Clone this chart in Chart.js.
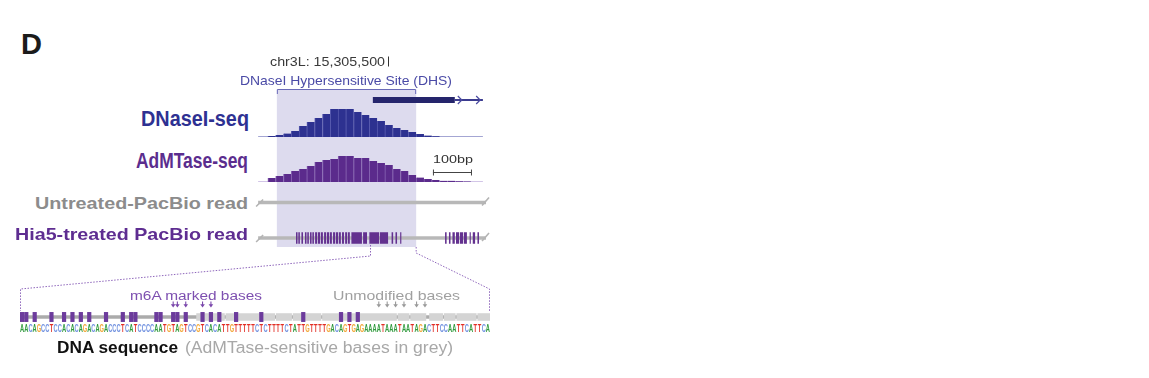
<!DOCTYPE html>
<html>
<head>
<meta charset="utf-8">
<title>DHS / PacBio read schematic</title>
<script src="https://cdn.jsdelivr.net/npm/chart.js@4.4.1/dist/chart.umd.min.js"></script>
<style>
  html, body { margin: 0; padding: 0; background: #fff; }
  #fig { position: relative; width: 1149px; height: 378px; overflow: hidden;
         font-family: "Liberation Sans", Arial, Helvetica, sans-serif; }
  #fig canvas { position: absolute; }
  .lbl { position: absolute; white-space: nowrap; line-height: 1; transform-origin: 0 0; }
</style>
</head>
<body>
<div id="fig">
  <canvas id="geneTrack"  width="240" height="58"  style="left:255px; top:50px"></canvas>
  <canvas id="dnaseTrack" width="240" height="30"  style="left:255px; top:108px"></canvas>
  <canvas id="admTrack"   width="240" height="46"  style="left:255px; top:138px"></canvas>
  <canvas id="untrTrack"  width="240" height="40"  style="left:255px; top:184px"></canvas>
  <canvas id="hia5Track"  width="240" height="23"  style="left:255px; top:224px"></canvas>
  <canvas id="seqTrack"   width="500" height="120" style="left:0; top:240px"></canvas>
</div>
<script>
// ---- upper tracks: x in bp from the window start (chr3L:15,305,160) ----
const winLen = 615;
const dhs = [56, 413];
const chrTick = 340;              // chr3L:15,305,500
const gene = [302, 512, 584];     // thick start, thick end, end of thin part
const geneArrows = [530, 577];
const covSpan = [8, 584];
const binStart = 33, binSize = 20;
const dnaseCov = [1, 2, 3.5, 6, 11, 15, 19, 23, 28, 28, 28, 25, 22, 19, 16, 12, 9, 7, 5, 3, 1.5, 0.8];
const admCov = [4, 6, 8, 11, 13, 16, 20, 22, 23, 26, 26, 24, 24, 21, 19, 17, 13, 11, 7, 4.5, 3, 2, 1.2, 1.2, 0.8, 0.6];
const scaleBar = [456, 556];      // 100 bp
const readSpan = [8, 592];
const hia5Calls = [
  [105, 109], [111, 115], [119, 123], [128, 132], [134, 138], [141, 145], [147, 151],
  [154, 159], [161, 167], [169, 174], [177, 182], [184, 190], [192, 197], [200, 205],
  [207, 213], [215, 220], [223, 228], [231, 236], [238, 243], [247, 274], [277, 287],
  [293, 318], [320, 341], [350, 354], [360, 364], [372, 375],
  [487, 491], [497, 501], [506, 512], [515, 523], [525, 533], [535, 543], [550, 553],
  [558, 564], [570, 574]
];
const zoomWindow = [296, 413];

// ---- zoomed-in sequence (base index) ----
const sequence = 'AACAGCCTCC' + 'ACACAGACAG' + 'ACCCTCATCC' + 'CCAATGTAGT' + 'CCGTCACATT' +
                 'GTTTTTCTCT' + 'TTTCTATTGT' + 'TTTGACAGTG' + 'AGAAAATAAA' + 'TAATAGACTT' +
                 'CCAATTCATT' + 'CA';
const m6A = [0, 1, 3, 7, 10, 12, 14, 16, 20, 24, 26, 27, 32, 33, 36, 37, 39, 43, 45, 47, 51, 57, 67, 76, 78, 80];
const m6AArrows = [36, 37, 39, 43, 45];
const unmodArrows = [85, 87, 89, 91, 94, 96];
const sensitive = [[42, 48.8], [49, 60.8], [61, 64.8], [65, 71.8], [72, 89.8], [90, 92.8],
                   [93, 96.8], [97.5, 100.8], [101, 103.8], [104, 108.8], [109, 112]];
const baseColors = { A: '#2f9a3c', C: '#7393e0', G: '#f2a93b', T: '#e22f25' };

// ---- labels: text, left, cap top, width, size, weight, colour ----
const labels = [
  ['D', 21, 34, 21, 29, 700, '#1b1b1b'],
  ['chr3L: 15,305,500', 270, 56.5, 115, 13.5, 400, '#3a3a3a'],
  ['DNaseI Hypersensitive Site (DHS)', 240, 76, 212, 13.5, 400, '#4a4aa6'],
  ['DNaseI-seq', 141, 111, 108, 22, 700, '#2e3192'],
  ['AdMTase-seq', 136, 153, 112, 22, 700, '#5b2d8e'],
  ['Untreated-PacBio read', 35, 196.7, 213, 16.5, 700, '#8c8c8c'],
  ['Hia5-treated PacBio read', 15, 228.5, 233, 16.5, 700, '#5e2d91'],
  ['100bp', 433, 155, 40, 11, 400, '#333'],
  ['m6A marked bases', 130, 291.7, 132, 12.5, 400, '#7d4fb0'],
  ['Unmodified bases', 333, 290.7, 127, 13.5, 400, '#a0a0a0'],
  ['DNA sequence', 57, 341.7, 121, 16, 700, '#111'],
  ['(AdMTase-sensitive bases in grey)', 185, 341.7, 268, 16, 400, '#a8a8a8']
];

const fig = document.getElementById('fig');
labels.forEach(([text, left, capTop, width, size, weight, color]) => {
  const el = document.createElement('div');
  el.className = 'lbl';
  el.textContent = text;
  el.style.fontSize = size + 'px';
  el.style.fontWeight = weight;
  el.style.color = color;
  el.style.left = left + 'px';
  el.style.top = (capTop - 0.1305 * size) + 'px';
  fig.appendChild(el);
  const w = el.getBoundingClientRect().width;
  el.style.transform = 'scaleX(' + (width / w) + ')';
});

Chart.defaults.animation = false;
Chart.defaults.responsive = false;
Chart.defaults.devicePixelRatio = 1;
Chart.defaults.plugins.legend.display = false;
Chart.defaults.plugins.tooltip.enabled = false;

const bpAxis = () => ({ type: 'linear', min: 0, max: winLen, offset: false, display: false });
const rowAxis = { type: 'category', display: false };

// lavender DHS band behind the upper tracks
const shade = {
  id: 'dhsShade',
  beforeDatasetsDraw(chart, args, opts) {
    const x = chart.scales.x, ctx = chart.ctx;
    const x0 = x.getPixelForValue(dhs[0]), x1 = x.getPixelForValue(dhs[1]);
    const top = opts.top || 0;
    ctx.save();
    ctx.fillStyle = '#dddbee';
    ctx.fillRect(x0, top, x1 - x0, chart.height - top);
    ctx.restore();
  }
};

const geneDeco = {
  id: 'geneDeco',
  beforeDatasetsDraw(chart) {
    const x = chart.scales.x, ctx = chart.ctx;
    const x0 = x.getPixelForValue(dhs[0]) + 0.5, x1 = x.getPixelForValue(dhs[1]) - 0.5;
    ctx.save();
    ctx.strokeStyle = '#6a6ab8';
    ctx.lineWidth = 1;
    ctx.beginPath();
    ctx.moveTo(x0, 44); ctx.lineTo(x0, 39.5); ctx.lineTo(x1, 39.5); ctx.lineTo(x1, 44);
    ctx.stroke();
    const xt = Math.round(x.getPixelForValue(chrTick)) + 0.5;
    ctx.strokeStyle = '#333';
    ctx.beginPath(); ctx.moveTo(xt, 6.5); ctx.lineTo(xt, 16.5); ctx.stroke();
    ctx.restore();
  },
  afterDatasetsDraw(chart) {
    const x = chart.scales.x, ctx = chart.ctx;
    const yc = chart.scales.y.getPixelForValue(0);
    ctx.save();
    ctx.strokeStyle = '#4a4aa0';
    ctx.lineWidth = 1.2;
    geneArrows.forEach(p => {
      const px = x.getPixelForValue(p);
      ctx.beginPath();
      ctx.moveTo(px - 4, yc - 4); ctx.lineTo(px, yc); ctx.lineTo(px - 4, yc + 4);
      ctx.stroke();
    });
    ctx.restore();
  }
};

const scaleBarDeco = {
  id: 'scaleBarDeco',
  afterDatasetsDraw(chart) {
    const x = chart.scales.x, ctx = chart.ctx;
    const x0 = x.getPixelForValue(scaleBar[0]), x1 = x.getPixelForValue(scaleBar[1]);
    const y = 34.5;
    ctx.save();
    ctx.strokeStyle = '#444';
    ctx.lineWidth = 1;
    ctx.beginPath();
    ctx.moveTo(x0, y); ctx.lineTo(x1, y);
    ctx.moveTo(x0 + 0.5, y - 3); ctx.lineTo(x0 + 0.5, y + 3);
    ctx.moveTo(x1 - 0.5, y - 3); ctx.lineTo(x1 - 0.5, y + 3);
    ctx.stroke();
    ctx.restore();
  }
};

// slanted cut marks at both ends of a read
const readEnds = {
  id: 'readEnds',
  afterDatasetsDraw(chart) {
    const x = chart.scales.x, ctx = chart.ctx;
    const yc = chart.scales.y.getPixelForValue(0);
    const xs = x.getPixelForValue(readSpan[0]), xe = x.getPixelForValue(readSpan[1]);
    ctx.save();
    ctx.strokeStyle = '#b4b4b4';
    ctx.lineWidth = 1.6;
    ctx.beginPath();
    ctx.moveTo(xs - 2, yc + 4); ctx.lineTo(xs + 5, yc - 3);
    ctx.moveTo(xe - 4, yc + 3); ctx.lineTo(xe + 3, yc - 5);
    ctx.stroke();
    ctx.restore();
  }
};

new Chart(document.getElementById('geneTrack'), {
  type: 'bar',
  data: {
    labels: ['gene'],
    datasets: [
      { data: [{ x: [gene[0], gene[1]], y: 'gene' }], backgroundColor: '#25256c',
        barPercentage: 0.75, categoryPercentage: 1, grouped: false },
      { data: [{ x: [gene[1], gene[2]], y: 'gene' }], backgroundColor: '#3b3b8f',
        barPercentage: 0.25, categoryPercentage: 1, grouped: false }
    ]
  },
  options: {
    indexAxis: 'y',
    layout: { padding: { top: 46, bottom: 4 } },
    scales: { x: bpAxis(), y: rowAxis },
    plugins: { dhsShade: { top: 40 } }
  },
  plugins: [shade, geneDeco]
});

function coverageChart(id, values, color, edge, baseColor, ymax, padBottom, extra) {
  return new Chart(document.getElementById(id), {
    type: 'bar',
    data: {
      datasets: [
        { type: 'bar', data: values.map((v, i) => ({ x: binStart + binSize * (i + 0.5), y: v })),
          backgroundColor: color, borderColor: edge, borderWidth: { left: 1 },
          barPercentage: 1, categoryPercentage: 1 },
        { type: 'line', data: [{ x: covSpan[0], y: 0 }, { x: covSpan[1], y: 0 }],
          borderColor: baseColor, borderWidth: 1.2, pointRadius: 0 }
      ]
    },
    options: {
      layout: { padding: { bottom: padBottom } },
      scales: { x: bpAxis(), y: { type: 'linear', min: 0, max: ymax, display: false } }
    },
    plugins: [shade].concat(extra)
  });
}

coverageChart('dnaseTrack', dnaseCov, '#2d3190', '#5558ad', '#4a4ea8', 29, 1, []);
coverageChart('admTrack', admCov, '#5b2b8c', '#8460b0', '#a58bd0', 44, 2, [scaleBarDeco]);

new Chart(document.getElementById('untrTrack'), {
  type: 'bar',
  data: {
    labels: ['read'],
    datasets: [
      { data: [{ x: readSpan, y: 'read' }], backgroundColor: '#b8b8b8',
        barPercentage: 0.095, categoryPercentage: 1, grouped: false }
    ]
  },
  options: {
    indexAxis: 'y',
    layout: { padding: { bottom: 3 } },
    scales: { x: bpAxis(), y: rowAxis }
  },
  plugins: [shade, readEnds]
});

const hia5Chart = new Chart(document.getElementById('hia5Track'), {
  type: 'bar',
  data: {
    labels: ['read'],
    datasets: [
      { data: hia5Calls.map(c => ({ x: c, y: 'read' })), backgroundColor: '#63318f',
        barPercentage: 0.64, categoryPercentage: 1, grouped: false },
      { data: [{ x: readSpan, y: 'read' }], backgroundColor: '#b8b8b8',
        barPercentage: 0.19, categoryPercentage: 1, grouped: false }
    ]
  },
  options: {
    indexAxis: 'y',
    layout: { padding: { top: 5 } },
    scales: { x: bpAxis(), y: rowAxis }
  },
  plugins: [shade, readEnds]
});

// letters, arrows and the dotted zoom lines of the sequence panel
const seqDeco = {
  id: 'seqDeco',
  afterDatasetsDraw(chart) {
    const x = chart.scales.x, ctx = chart.ctx;
    ctx.save();
    ctx.font = 'bold 11px "Liberation Sans", Arial, sans-serif';
    ctx.textAlign = 'center';
    ctx.textBaseline = 'alphabetic';
    sequence.split('').forEach((b, i) => {
      ctx.save();
      ctx.translate(x.getPixelForValue(i + 0.5), 91.5);
      ctx.scale(0.52, 1);
      ctx.fillStyle = baseColors[b];
      ctx.fillText(b, 0, 0);
      ctx.restore();
    });

    const arrow = (i, color) => {
      const px = x.getPixelForValue(i + 0.5);
      ctx.strokeStyle = color; ctx.fillStyle = color; ctx.lineWidth = 1.1;
      ctx.beginPath(); ctx.moveTo(px, 61.5); ctx.lineTo(px, 65); ctx.stroke();
      ctx.beginPath(); ctx.moveTo(px - 2.3, 64.3); ctx.lineTo(px + 2.3, 64.3); ctx.lineTo(px, 67.6);
      ctx.closePath(); ctx.fill();
    };
    m6AArrows.forEach(i => arrow(i, '#7a47ab'));
    unmodArrows.forEach(i => arrow(i, '#9a9a9a'));

    const hx = hia5Chart.scales.x, off = hia5Chart.canvas.offsetLeft;
    const xl = off + hx.getPixelForValue(zoomWindow[0]);
    const xr = off + hx.getPixelForValue(zoomWindow[1]);
    const s0 = x.getPixelForValue(0), s1 = x.getPixelForValue(sequence.length);
    ctx.strokeStyle = '#8e66bb';
    ctx.lineWidth = 1;
    ctx.setLineDash([1.5, 1.5]);
    ctx.beginPath();
    ctx.moveTo(xl, 5); ctx.lineTo(xl, 16); ctx.lineTo(s0 + 0.5, 49); ctx.lineTo(s0 + 0.5, 71);
    ctx.moveTo(xr, 7); ctx.lineTo(xr, 13); ctx.lineTo(s1 - 0.5, 49); ctx.lineTo(s1 - 0.5, 71);
    ctx.stroke();
    ctx.restore();
  }
};

new Chart(document.getElementById('seqTrack'), {
  type: 'bar',
  data: {
    labels: ['seq'],
    datasets: [
      { data: m6A.map(i => ({ x: [i, i + 1], y: 'seq' })), backgroundColor: '#6c3b9c',
        barPercentage: 0.71, categoryPercentage: 1, grouped: false },
      { data: sensitive.map(r => ({ x: r, y: 'seq' })), backgroundColor: '#d4d4d4',
        barPercentage: 0.54, categoryPercentage: 1, grouped: false },
      { data: [{ x: [0, sequence.length], y: 'seq' }], backgroundColor: '#ababab',
        barPercentage: 0.25, categoryPercentage: 1, grouped: false }
    ]
  },
  options: {
    indexAxis: 'y',
    layout: { padding: { left: 20, right: 10, top: 70, bottom: 36 } },
    scales: { x: { type: 'linear', min: 0, max: sequence.length, offset: false, display: false }, y: rowAxis }
  },
  plugins: [seqDeco]
});
</script>
</body>
</html>
